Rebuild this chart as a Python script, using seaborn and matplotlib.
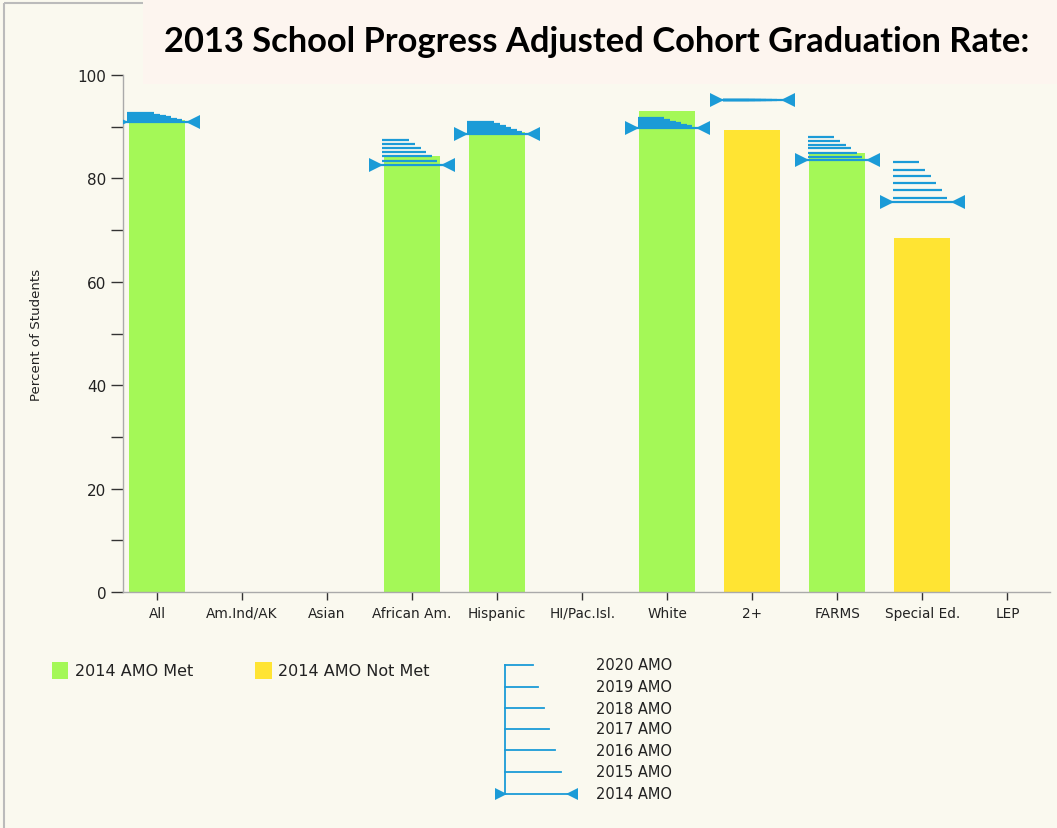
import numpy as np
import pandas as pd
import matplotlib
matplotlib.use('Agg')
import matplotlib.pyplot as plt
import seaborn as sns
from matplotlib.patches import Rectangle

plt.rcParams['font.family'] = ['DejaVu Sans']

# Groups and 2013 graduation rates (NaN = no bar shown)
groups = ['All', 'Am.Ind/AK', 'Asian', 'African Am.', 'Hispanic', 'HI/Pac.Isl.',
          'White', '2+', 'FARMS', 'Special Ed.', 'LEP']
rates = [91.3, np.nan, np.nan, 84.4, 89.0, np.nan, 93.0, 89.4, 85.0, 68.5, np.nan]
status = ['Met', 'Met', 'Met', 'Met', 'Met', 'Met', 'Met', 'Not Met', 'Met', 'Not Met', 'Met']

# AMO targets per year
amo_years = ['2014 AMO', '2015 AMO', '2016 AMO', '2017 AMO', '2018 AMO', '2019 AMO', '2020 AMO']
amo_2014 = [90.9, np.nan, np.nan, 82.6, 88.6, np.nan, 89.8, 95.2, 83.6, 75.4, np.nan]
amo_2015 = [91.2, np.nan, np.nan, 83.4, 89.0, np.nan, 90.1, 95.2, 84.1, 76.3, np.nan]
amo_2016 = [91.5, np.nan, np.nan, 84.3, 89.4, np.nan, 90.4, 95.2, 84.9, 77.8, np.nan]
amo_2017 = [91.8, np.nan, np.nan, 85.2, 89.8, np.nan, 90.7, 95.2, 85.9, 79.1, np.nan]
amo_2018 = [92.1, np.nan, np.nan, 85.8, 90.2, np.nan, 91.0, 95.2, 86.5, 80.5, np.nan]
amo_2019 = [92.3, np.nan, np.nan, 86.7, 90.6, np.nan, 91.3, 95.2, 87.3, 81.6, np.nan]
amo_2020 = [92.6, np.nan, np.nan, 87.5, 91.0, np.nan, 91.6, 95.2, 88.1, 83.1, np.nan]

bg = '#FAF9EF'
green = '#A4F857'
yellow = '#FFE433'
blue = '#1B9BD7'

df = pd.DataFrame({'group': groups, 'rate': rates, 'status': status})

fig = plt.figure(figsize=(10.57, 8.29), dpi=100, facecolor=bg)
ax = fig.add_axes([123 / 1057, 1 - 593 / 829, (1050 - 123) / 1057, (593 - 76) / 829])
ax.set_facecolor('none')

sns.barplot(data=df, x='group', y='rate', hue='status', order=groups,
            hue_order=['Met', 'Not Met'], palette=[green, yellow], saturation=1,
            dodge=False, width=0.66, linewidth=0, legend=False, ax=ax)

# AMO lines: 2014 full width with arrows, later years as shrinking steps
amo_rows = [amo_2014, amo_2015, amo_2016, amo_2017, amo_2018, amo_2019, amo_2020]
step_ends = [None, 0.29, 0.235, 0.165, 0.105, 0.035, -0.035]
for i in range(len(groups)):
    for k, row in enumerate(amo_rows):
        v = row[i]
        if np.isnan(v):
            continue
        if k == 0:
            ax.plot([i - 0.45, i + 0.45], [v, v], color=blue, lw=1.6, zorder=4,
                    solid_capstyle='butt')
            ax.plot(i - 0.42, v, marker='>', color=blue, ms=10, zorder=5, mew=0)
            ax.plot(i + 0.42, v, marker='<', color=blue, ms=10, zorder=5, mew=0)
        else:
            ax.plot([i - 0.35, i + step_ends[k]], [v, v], color=blue, lw=1.6, zorder=4,
                    solid_capstyle='butt')

ax.set_xlim(-0.4, 10.5)
ax.set_ylim(0, 100)
ax.set_yticks([0, 20, 40, 60, 80, 100])
ax.set_yticks([10, 30, 50, 70, 90], minor=True)
ax.tick_params(axis='y', which='both', length=9, width=1, color='#333333',
               labelsize=11, labelcolor='#222222', pad=3)
ax.tick_params(axis='x', length=6, width=1, color='#333333', labelsize=9.8,
               labelcolor='#222222', pad=4)
ax.set_xlabel('')
ax.set_ylabel('Percent of Students', fontsize=9.6, color='#222222', labelpad=25)
for s in ['top', 'right']:
    ax.spines[s].set_visible(False)
for s in ['left', 'bottom']:
    ax.spines[s].set_color('#AAAAAA')
    ax.spines[s].set_linewidth(1)

# Overlay in pixel coordinates for frame, title box and legend
ov = fig.add_axes([0, 0, 1, 1], zorder=-1)
ov.set_xlim(0, 1057)
ov.set_ylim(829, 0)
ov.axis('off')
ov.add_patch(Rectangle((4, 4), 1100, 1000, fill=False, edgecolor='#BBBBBB', lw=1.5))
ov.add_patch(Rectangle((143, 0), 914, 85, facecolor='#FDF5EF', edgecolor='none'))

fig.text(597 / 1057, 1 - 42 / 829, '2013 School Progress Adjusted Cohort Graduation Rate:',
         ha='center', va='center', fontsize=24.8, fontweight='bold', family='Lato', color='black')

# bar-colour legend
ov.add_patch(Rectangle((52, 663), 16, 17, facecolor=green, edgecolor='none'))
ov.text(75, 672, '2014 AMO Met', fontsize=11.5, va='center', color='#222222')
ov.add_patch(Rectangle((255, 663), 17, 17, facecolor=yellow, edgecolor='none'))
ov.text(278, 672, '2014 AMO Not Met', fontsize=11.5, va='center', color='#222222')

# AMO legend
leg_y = [795, 773, 751, 730, 709, 688, 666]
leg_x = [575, 561, 555, 549, 544, 538, 533]
ov.plot([505, 505], [666, 795], color=blue, lw=1.3)
for k in range(7):
    x0 = 497 if k == 0 else 505
    ov.plot([x0, leg_x[k]], [leg_y[k], leg_y[k]], color=blue, lw=1.3)
    ov.text(596, leg_y[k], amo_years[k], fontsize=10.5, va='center', color='#222222')
ov.plot(501, 795, marker='>', color=blue, ms=9, mew=0)
ov.plot(572, 795, marker='<', color=blue, ms=9, mew=0)

fig.savefig('out.png', dpi=100, facecolor=bg)
